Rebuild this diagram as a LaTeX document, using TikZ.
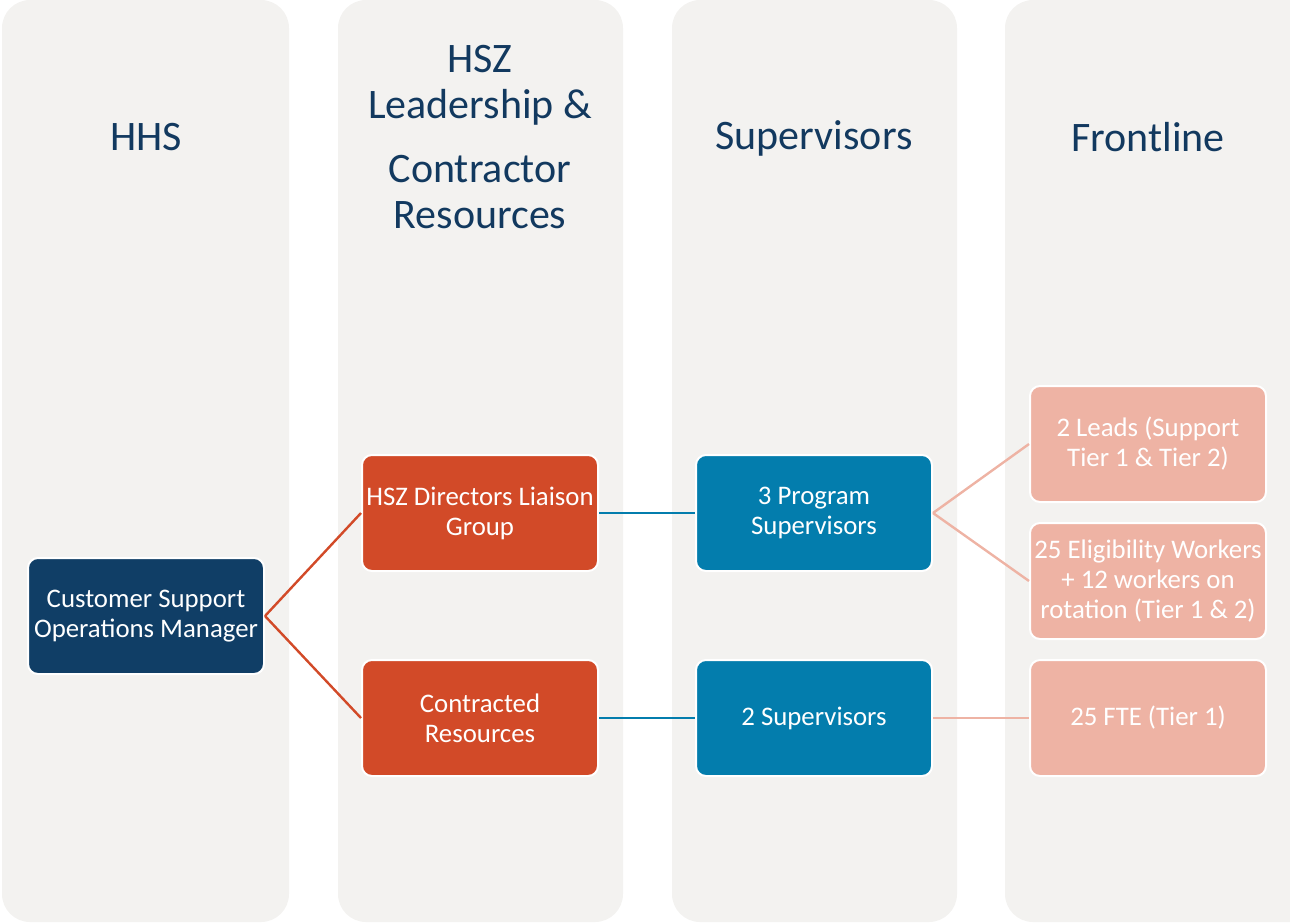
\documentclass[tikz,border=0pt]{standalone}
\usepackage{fontspec}
\setmainfont{Carlito}
\usepackage{tikz}
\usetikzlibrary{positioning}

\definecolor{colbg}{HTML}{F3F2F0}
\definecolor{hdrblue}{HTML}{12395F}
\definecolor{navy}{HTML}{103E66}
\definecolor{rust}{HTML}{D24A28}
\definecolor{teal}{HTML}{037DAD}
\definecolor{salmon}{HTML}{EEB3A4}

\tikzset{
  colbox/.style = {fill=colbg, rounded corners=28},
  hdr/.style = {text=hdrblue, align=center, font=\fontsize{42}{46}\selectfont},
  box/.style = {draw=white, line width=2, rounded corners=10, minimum width=236,
    minimum height=116, align=center, text=white, font=\fontsize{26.8}{30}\selectfont},
  link/.style = {line width=2.4}
}

\begin{document}
\begin{tikzpicture}[x=1pt, y=-1pt]
\useasboundingbox (0,0) rectangle (1290,922);
% column backgrounds
\fill[colbox] (2,0) rectangle (289,922);
\fill[colbox] (338,0) rectangle (623,922);
\fill[colbox] (672,0) rectangle (957,922);
\fill[colbox] (1005,0) rectangle (1318,922);

% headings
\node[hdr] (hhs) at (146,137) {HHS};
\node[hdr] (hsz) at (480,137) {HSZ\\Leadership \&\\[18pt]Contractor\\Resources};
\node[hdr] (sup) at (814,138) {Supervisors};
\node[hdr] (front) at (1148,137) {Frontline};

% boxes
\node[box, fill=navy] (csom) at (146,616) {Customer Support\\Operations Manager};
\node[box, fill=rust] (liaison) at (480,513) {HSZ Directors Liaison\\Group};
\node[box, fill=rust] (contracted) at (480,718) {Contracted\\Resources};
\node[box, fill=teal] (progsup) at (814,513) {3 Program\\Supervisors};
\node[box, fill=teal] (twosup) at (814,718) {2 Supervisors};
\node[box, fill=salmon] (leads) at (1148,444) {2 Leads (Support\\Tier 1 \& Tier 2)};
\node[box, fill=salmon] (elig) at (1148,581) {25 Eligibility Workers\\+ 12 workers on\\rotation (Tier 1 \& 2)};
\node[box, fill=salmon] (fte) at (1148,718) {25 FTE (Tier 1)};

% connectors
\draw[link, rust] (csom.east) -- (liaison.west);
\draw[link, rust] (csom.east) -- (contracted.west);
\draw[link, teal] (liaison.east) -- (progsup.west);
\draw[link, teal] (contracted.east) -- (twosup.west);
\draw[link, salmon] (progsup.east) -- (leads.west);
\draw[link, salmon] (progsup.east) -- (elig.west);
\draw[link, salmon] (twosup.east) -- (fte.west);
\end{tikzpicture}
\end{document}
